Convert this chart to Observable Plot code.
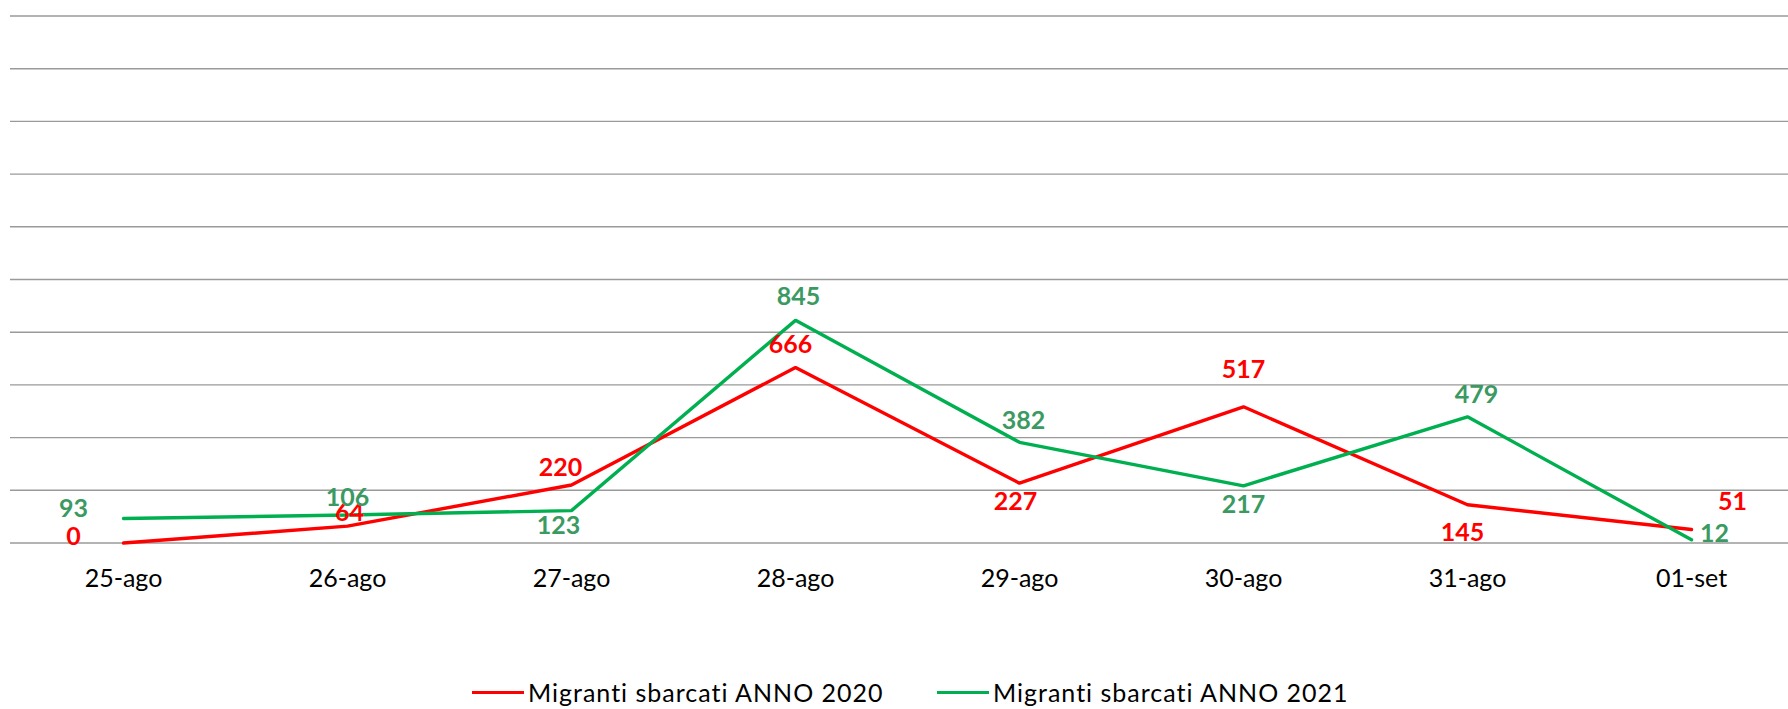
<!DOCTYPE html>
<html>
<head>
<meta charset="utf-8">
<script src="https://cdn.jsdelivr.net/npm/d3@7"></script>
<script src="https://cdn.jsdelivr.net/npm/@observablehq/plot@0.6"></script>
<style>
  html, body { margin: 0; padding: 0; background: #fff; }
  #wrap { position: relative; width: 1788px; height: 709px; overflow: hidden; font-family: Lato, "Open Sans", sans-serif; }
  #chart { position: absolute; left: 0; top: 0; }
  .leg { position: absolute; top: 677px; display: flex; align-items: center; font-size: 25px; letter-spacing: 1px; color: #000; white-space: nowrap; }
  .leg .sw { width: 52px; height: 3px; margin-right: 4px; }
</style>
</head>
<body>
<div id="wrap">
  <div id="chart"></div>
  <div class="leg" id="leg1" style="left:472px"><span class="sw" style="background:#ff0000"></span><span>Migranti sbarcati ANNO 2020</span></div>
  <div class="leg" id="leg2" style="left:937px"><span class="sw" style="background:#00b050"></span><span>Migranti sbarcati ANNO 2021</span></div>
</div>
<script>
// ---- data ----
const dates = ["25-ago", "26-ago", "27-ago", "28-ago", "29-ago", "30-ago", "31-ago", "01-set"];
const values2020 = [0, 64, 220, 666, 227, 517, 145, 51];
const values2021 = [93, 106, 123, 845, 382, 217, 479, 12];
const seriesNames = ["Migranti sbarcati ANNO 2020", "Migranti sbarcati ANNO 2021"];
const yGridTicks = [0, 200, 400, 600, 800, 1000, 1200, 1400, 1600, 1800, 2000];

// ---- styling (label placement offsets, not data) ----
const labelOffsets2020 = [[-50, -6], [2, -13], [-11, -17], [-5, -23], [-4, 19], [0, -37], [-5, 28], [41, -28]];
const labelOffsets2021 = [[-50, -9], [0, -17], [-13, 15], [3, -23], [4, -21], [0, 19], [9, -22], [23, -6]];
const red = "#ff0000", green = "#00b050", greenLabel = "#3a9a62";

const rows2020 = dates.map((d, i) => ({date: d, value: values2020[i], series: seriesNames[0]}));
const rows2021 = dates.map((d, i) => ({date: d, value: values2021[i], series: seriesNames[1]}));

const labelMarks = [];
rows2020.forEach((r, i) => labelMarks.push(Plot.text([r], {x: "date", y: "value", text: d => String(d.value), dx: labelOffsets2020[i][0], dy: labelOffsets2020[i][1], fill: red, fontWeight: "bold", fontSize: 25})));
rows2021.forEach((r, i) => labelMarks.push(Plot.text([r], {x: "date", y: "value", text: d => String(d.value), dx: labelOffsets2021[i][0], dy: labelOffsets2021[i][1], fill: greenLabel, fontWeight: "bold", fontSize: 25})));

const chart = Plot.plot({
  width: 1788,
  height: 600,
  marginLeft: 10,
  marginRight: 0,
  marginTop: 15.5,
  marginBottom: 57.5,
  style: {fontFamily: "Lato, 'Open Sans', sans-serif", background: "transparent", color: "#000"},
  x: {type: "point", domain: dates, range: [122, 1692], padding: 0, label: null},
  y: {domain: [0, 2000], range: [542.5, 15.5], axis: null},
  marks: [
    Plot.ruleY(yGridTicks, {stroke: "#9a9a9a", strokeWidth: 1.4}),
    Plot.axisX({tickSize: 0, tickPadding: 26, fontSize: 25, label: null, fill: "#000"}),
    Plot.line(rows2020, {x: "date", y: "value", stroke: red, strokeWidth: 3.4, strokeLinejoin: "miter"}),
    Plot.line(rows2021, {x: "date", y: "value", stroke: green, strokeWidth: 3.4, strokeLinejoin: "miter"}),
    ...labelMarks
  ]
});
document.getElementById("chart").appendChild(chart);
</script>
</body>
</html>
